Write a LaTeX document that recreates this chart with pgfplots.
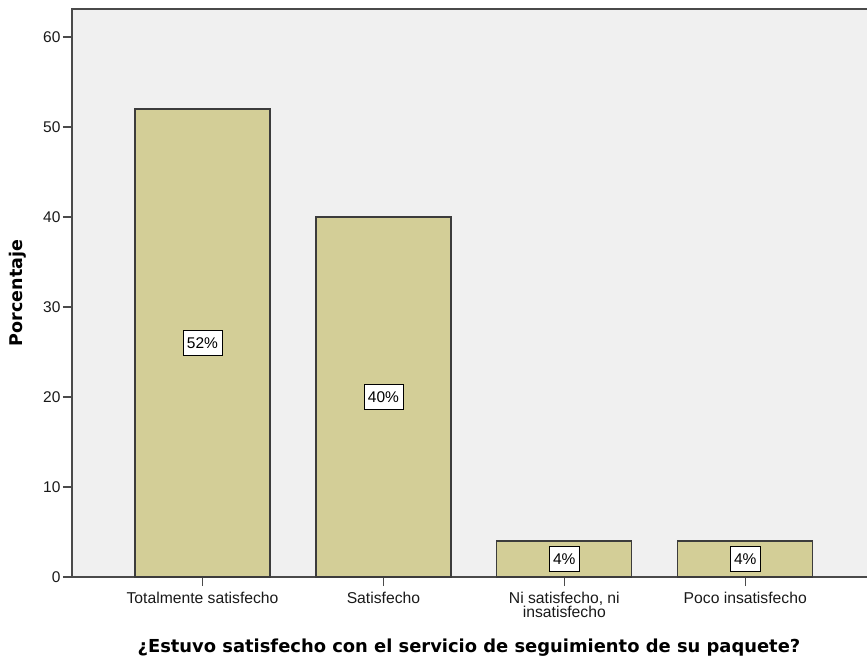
\documentclass[border=0pt]{standalone}
\usepackage{pgfplots}
\pgfplotsset{compat=1.18}
\usepackage{fontspec}
\setmainfont{Liberation Sans}
\newfontfamily\headfont{DejaVu Sans}

\definecolor{barfill}{HTML}{D3CE97}
\definecolor{plotbg}{HTML}{F0F0F0}
\definecolor{edge}{HTML}{3C3C3C}
\definecolor{axisgray}{HTML}{4A4A4A}

\begin{document}
\begin{tikzpicture}[x=1pt,y=1pt]
\begin{axis}[
  at={(0,0)}, anchor=south west,
  scale only axis, width=808pt, height=568pt,
  xmin=-0.7214, xmax=3.745,
  ymin=0, ymax=63.111,
  axis background/.style={fill=plotbg},
  axis line style={draw=axisgray, line width=1.6pt},
  tick align=outside, major tick length=9pt,
  tick style={draw=axisgray, line width=1.4pt},
  xtick pos=bottom, ytick pos=left,
  xtick={0,1,2,3},
  xticklabels={Totalmente satisfecho, Satisfecho, {Ni satisfecho, ni\\insatisfecho}, Poco insatisfecho},
  ytick={0,10,...,60},
  xticklabel style={align=center, font=\fontsize{15.7}{14}\selectfont, text=black!90, yshift=-3pt},
  yticklabel style={font=\fontsize{15.5}{14}\selectfont, text=black!90, xshift=1pt},
  /pgf/number format/assume math mode=true,
  ylabel={Porcentaje},
  ylabel style={at={(axis description cs:-0.0668,0.5)}, anchor=center,
    font=\headfont\bfseries\fontsize{17.5}{20}\selectfont},
  xlabel={¿Estuvo satisfecho con el servicio de seguimiento de su paquete?},
  xlabel style={at={(axis description cs:0.4913,-0.125)}, anchor=center,
    font=\headfont\bfseries\fontsize{17.9}{20}\selectfont},
  ybar, bar width=135pt,
]
% percentage of respondents per answer
\addplot[fill=barfill, draw=edge, line width=1.3pt,
  point meta=y,
  visualization depends on={y \as \rawy},
  nodes near coords={\pgfmathprintnumber[fixed,precision=0]{\pgfplotspointmeta}\%},
  every node near coord/.append style={anchor=center, yshift=-\rawy*4.5pt,
    draw=black, fill=white, line width=0.8pt, text=black,
    font=\fontsize{15.5}{15}\selectfont, inner xsep=4pt, inner ysep=0pt,
    minimum height=25pt}]
  coordinates {(0,52) (1,40) (2,4) (3,4)};
\end{axis}
\pgfresetboundingbox
\path[use as bounding box] (-72,-85) rectangle (795,577);
\end{tikzpicture}
\end{document}
